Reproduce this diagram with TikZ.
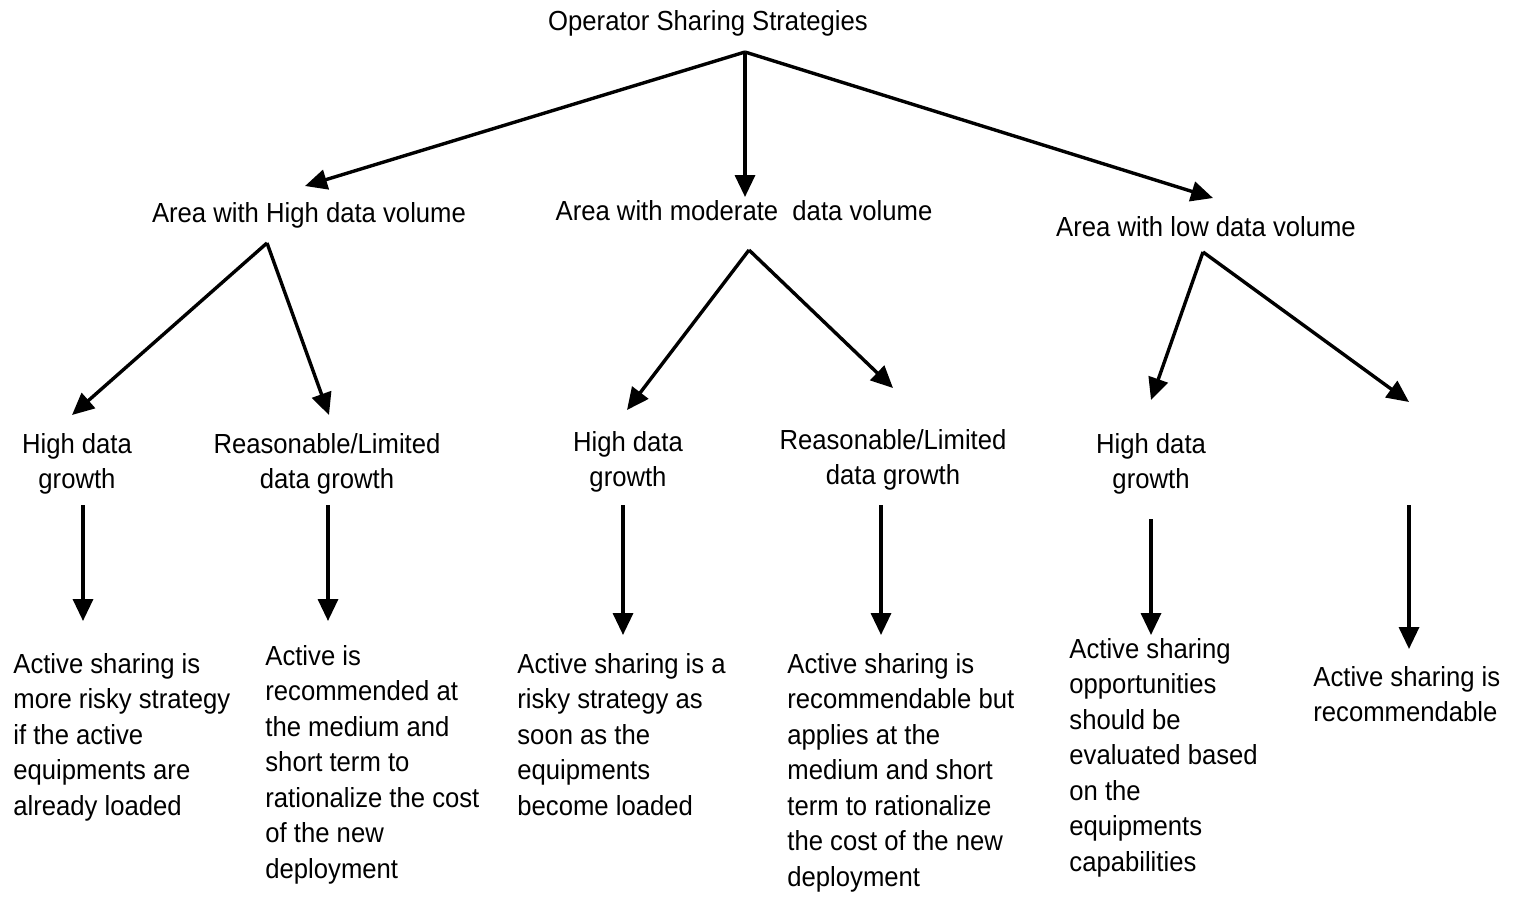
\documentclass[tikz,border=0pt]{standalone}
\usepackage{fontspec}
\setmainfont{Liberation Sans}[FakeStretch=0.93]
\usepackage{tikz}
\usetikzlibrary{arrows.meta}

\begin{document}
\begin{tikzpicture}[x=0.5pt,y=-0.5pt,
        txt/.style={inner sep=0pt,font=\fontsize{13.8}{17.75}\selectfont},
        branch/.style={txt,anchor=north,align=center},
        leaf/.style={txt,anchor=north west,align=left},
        arr/.style={-{Triangle[length=11pt,width=10pt]},line width=1.7pt}]
                \useasboundingbox (0,0) rectangle (1513,896);
                % top
                \node[branch] (root) at (708,10) {Operator Sharing Strategies};
                \node[branch] (high) at (309,202) {Area with High data volume};
                \node[branch] (moderate) at (744,200) {Area with moderate\ \ data volume};
                \node[branch] (low) at (1206,216) {Area with low data volume};
                \coordinate (roothub) at (745,52);
                \coordinate (hightip) at (305,186);
                \coordinate (moderatetip) at (745,197);
                \coordinate (lowtip) at (1213,198);
                \draw[arr] (roothub) -- (hightip);
                \draw[arr] (roothub) -- (moderatetip);
                \draw[arr] (roothub) -- (lowtip);
                % growth
                \node[branch] (highA) at (77,433) {High data\\growth};
                \node[branch] (highB) at (327,433) {Reasonable/Limited\\data growth};
                \node[branch] (modA) at (628,431) {High data\\growth};
                \node[branch] (modB) at (893,429) {Reasonable/Limited\\data growth};
                \node[branch] (lowA) at (1151,433) {High data\\growth};
                \coordinate (highhub) at (267,243);
                \coordinate (modhub) at (749,250);
                \coordinate (lowhub) at (1203,252);
                \coordinate (highAtip) at (72,415);
                \coordinate (highBtip) at (329,415);
                \coordinate (modAtip) at (627,410);
                \coordinate (modBtip) at (893,388);
                \coordinate (lowAtip) at (1151,400);
                \coordinate (lowBtip) at (1409,402);
                \draw[arr] (highhub) -- (highAtip);
                \draw[arr] (highhub) -- (highBtip);
                \draw[arr] (modhub) -- (modAtip);
                \draw[arr] (modhub) -- (modBtip);
                \draw[arr] (lowhub) -- (lowAtip);
                \draw[arr] (lowhub) -- (lowBtip);
                % advice
                \node[leaf] (adviceA) at (13,653) {Active sharing is\\more risky strategy\\if the active\\equipments are\\already loaded};
                \node[leaf] (adviceB) at (265,645) {Active is\\recommended at\\the medium and\\short term to\\rationalize the cost\\of the new\\deployment};
                \node[leaf] (adviceC) at (517,653) {Active sharing is a\\risky strategy as\\soon as the\\equipments\\become loaded};
                \node[leaf] (adviceD) at (787,653) {Active sharing is\\recommendable but\\applies at the\\medium and short\\term to rationalize\\the cost of the new\\deployment};
                \node[leaf] (adviceE) at (1069,638) {Active sharing\\opportunities\\should be\\evaluated based\\on the\\equipments\\capabilities};
                \node[leaf] (adviceF) at (1313,666) {Active sharing is\\recommendable};
                \coordinate (downA) at (83,505);
                \coordinate (downB) at (328,505);
                \coordinate (downC) at (623,505);
                \coordinate (downD) at (881,505);
                \coordinate (downE) at (1151,519);
                \coordinate (downF) at (1409,505);
                \draw[arr] (downA) -- (83,621);
                \draw[arr] (downB) -- (328,621);
                \draw[arr] (downC) -- (623,635);
                \draw[arr] (downD) -- (881,635);
                \draw[arr] (downE) -- (1151,635);
                \draw[arr] (downF) -- (1409,649);
\end{tikzpicture}
\end{document}
